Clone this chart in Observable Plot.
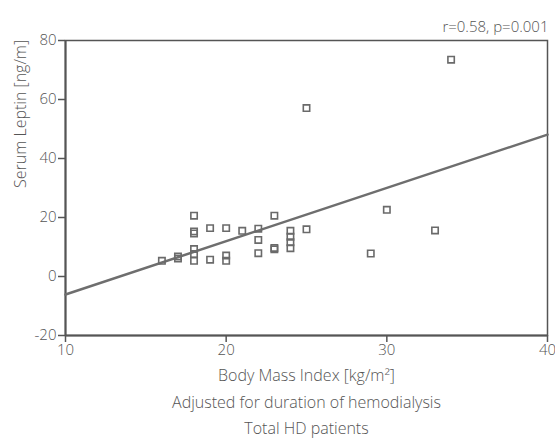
<!DOCTYPE html>
<html>
<head>
<meta charset="utf-8">
<script src="https://cdn.jsdelivr.net/npm/d3@7"></script>
<script src="https://cdn.jsdelivr.net/npm/@observablehq/plot@0.6"></script>
<style>
  html, body { margin: 0; padding: 0; background: #fff; }
  #chart svg { display: block; }
</style>
</head>
<body>
<div id="chart"></div>
<script>
// Body Mass Index [kg/m²] of each patient
const bmi = [16, 17, 17, 18, 18, 18, 18, 18, 18, 19, 19, 20, 20, 20, 21, 22, 22, 22, 23, 23, 23, 24, 24, 24, 24, 25, 25, 29, 30, 33, 34];
// Serum leptin [ng/m] of each patient
const leptin = [5.3, 6.8, 6.1, 20.6, 15.3, 14.6, 9.3, 7.6, 5.3, 16.4, 5.7, 16.4, 7.1, 5.3, 15.5, 16.2, 12.4, 7.9, 20.6, 9.7, 9.2, 15.5, 13.5, 11.6, 9.6, 16.0, 57.1, 7.8, 22.6, 15.6, 73.5];
// Fitted regression line endpoints
const fitX = [10, 40];
const fitY = [-6.1, 48.1];
const xTicks = [10, 20, 30, 40];
const yTicks = [-20, 0, 20, 40, 60, 80];
const statText = "r=0.58, p=0.001";
const xLabel = "Body Mass Index [kg/m²]";
const yLabel = "Serum Leptin [ng/m]";
const captions = ["Adjusted for duration of hemodialysis", "Total HD patients"];

const points = bmi.map((x, i) => ({x, y: leptin[i]}));
const fit = fitX.map((x, i) => ({x, y: fitY[i]}));
const ink = "#555";
const font = "'Open Sans', sans-serif";

const chart = Plot.plot({
  width: 555,
  height: 439,
  marginLeft: 65,
  marginRight: 8,
  marginTop: 40,
  marginBottom: 104,
  style: {fontFamily: font, fontSize: "15px", fontWeight: 300, color: ink, background: "#fff"},
  x: {domain: [10, 40]},
  y: {domain: [-20, 80]},
  marks: [
    Plot.frame({stroke: ink, strokeWidth: 1.5}),
    Plot.ruleX([10], {stroke: ink, strokeWidth: 2}),
    Plot.ruleY([-20], {stroke: ink, strokeWidth: 2}),
    Plot.axisX({ticks: xTicks, tickFormat: d => String(d), tickSize: 7, tickPadding: 2, label: null, fontSize: 15, fill: ink, stroke: ink, strokeWidth: 1.5}),
    Plot.axisY({ticks: yTicks, tickFormat: d => String(d), tickSize: 7, tickPadding: 2, label: null, fontSize: 15, fill: ink, stroke: ink, strokeWidth: 1.5}),
    Plot.line(fit, {x: "x", y: "y", stroke: "#6e6e6e", strokeWidth: 2.5}),
    Plot.dot(points, {x: "x", y: "y", symbol: "square", r: 3.6, stroke: "#6a6a6a", strokeWidth: 1.6, fill: "none"}),
    Plot.text([statText], {frameAnchor: "top-right", dx: 1, dy: -19, textAnchor: "end", fontSize: 15, fill: ink}),
    Plot.text([xLabel], {frameAnchor: "bottom", dy: 45, fontSize: 16, fill: ink}),
    Plot.text([captions[0]], {frameAnchor: "bottom", dy: 72, fontSize: 16, fill: ink}),
    Plot.text([captions[1]], {frameAnchor: "bottom", dy: 98, fontSize: 16, fill: ink}),
    Plot.text([yLabel], {frameAnchor: "left", dx: -45, rotate: -90, fontSize: 16, fill: ink})
  ]
});
document.getElementById("chart").append(chart);
</script>
</body>
</html>
